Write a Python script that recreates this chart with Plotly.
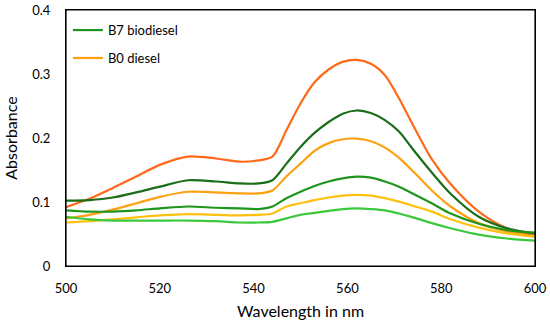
import plotly.graph_objects as go

wavelength = [500, 505, 510, 515, 520, 526, 532, 537, 541, 544, 547, 550, 553, 556, 559, 562, 565, 568, 571, 574, 578, 582, 588, 594, 600]

s_red = [0.092, 0.105, 0.122, 0.140, 0.158, 0.171, 0.168, 0.163, 0.165, 0.171, 0.212, 0.254, 0.287, 0.307, 0.319, 0.322, 0.316, 0.298, 0.262, 0.220, 0.167, 0.128, 0.085, 0.059, 0.048]
s_dkgreen = [0.102, 0.103, 0.107, 0.115, 0.124, 0.134, 0.132, 0.129, 0.129, 0.134, 0.160, 0.186, 0.208, 0.225, 0.238, 0.243, 0.239, 0.228, 0.210, 0.182, 0.146, 0.113, 0.077, 0.059, 0.051]
s_orange = [0.0745, 0.080, 0.088, 0.098, 0.108, 0.116, 0.115, 0.1135, 0.1135, 0.118, 0.140, 0.160, 0.180, 0.192, 0.198, 0.199, 0.195, 0.185, 0.169, 0.148, 0.118, 0.093, 0.067, 0.054, 0.046]
s_green = [0.087, 0.085, 0.085, 0.087, 0.090, 0.093, 0.091, 0.090, 0.089, 0.093, 0.106, 0.116, 0.125, 0.132, 0.137, 0.1395, 0.138, 0.132, 0.124, 0.113, 0.098, 0.082, 0.066, 0.056, 0.052]
s_yellow = [0.068, 0.070, 0.073, 0.076, 0.079, 0.081, 0.080, 0.079, 0.080, 0.082, 0.093, 0.098, 0.103, 0.107, 0.110, 0.111, 0.110, 0.106, 0.1005, 0.094, 0.085, 0.073, 0.060, 0.051, 0.046]
s_ltgreen = [0.077, 0.073, 0.071, 0.071, 0.071, 0.071, 0.070, 0.068, 0.068, 0.069, 0.0745, 0.080, 0.083, 0.086, 0.089, 0.090, 0.089, 0.087, 0.082, 0.076, 0.067, 0.059, 0.049, 0.043, 0.0395]

x_ticks = [500, 520, 540, 560, 580, 600]
y_ticks = [0, 0.1, 0.2, 0.3, 0.4]
y_tick_labels = ["0", "0.1", "0.2", "0.3", "0.4"]

series = [
    (s_red, "#FF6A1A", None),
    (s_dkgreen, "#1A6E1A", None),
    (s_orange, "#FFA010", "B0 diesel"),
    (s_green, "#1E961E", "B7 biodiesel"),
    (s_yellow, "#FFC010", None),
    (s_ltgreen, "#3CC83C", None),
]

fig = go.Figure()
for vals, col, name in series:
    fig.add_trace(go.Scatter(
        x=wavelength, y=vals, mode="lines",
        line=dict(color=col, width=2.2, shape="spline", smoothing=0.8),
        name=name if name else "",
        showlegend=bool(name),
        legendrank=1 if name == "B7 biodiesel" else 2,
        legendgroup=name if name else None,
    ))

# plot frame
fig.add_shape(type="rect", xref="paper", yref="paper", x0=0, y0=0, x1=1, y1=1,
              line=dict(color="#000000", width=1.2), fillcolor="rgba(0,0,0,0)",
              layer="above")

fig.update_layout(
    width=550, height=323,
    margin=dict(l=66, r=15, t=10, b=57, autoexpand=False),
    paper_bgcolor="white", plot_bgcolor="white",
    font=dict(family="Lato, Open Sans, sans-serif", size=13, color="#000000"),
    legend=dict(x=0.004, y=0.98, xanchor="left", yanchor="top",
                bgcolor="rgba(0,0,0,0)", font=dict(size=13),
                tracegroupgap=8, itemwidth=30),
    xaxis=dict(range=[500, 600], tickvals=x_ticks, showgrid=False, zeroline=False,
               showline=True, linecolor="#000000", linewidth=1.2, mirror=True,
               ticks="outside", ticklen=10, tickcolor="rgba(0,0,0,0)",
               automargin=False,
               title=dict(text="Wavelength in nm", standoff=11),
               tickfont=dict(size=13)),
    yaxis=dict(range=[0, 0.4], tickvals=y_ticks, ticktext=y_tick_labels,
               showgrid=False, zeroline=False,
               showline=True, linecolor="#000000", linewidth=1.2, mirror=True,
               ticks="outside", ticklen=12, tickcolor="rgba(0,0,0,0)",
               automargin=False,
               title=dict(text="Absorbance", standoff=10),
               tickfont=dict(size=13)),
)

fig.write_html("out.html", config={"displayModeBar": False},
               post_script="document.body.style.margin='0px';document.body.style.overflow='hidden';")
